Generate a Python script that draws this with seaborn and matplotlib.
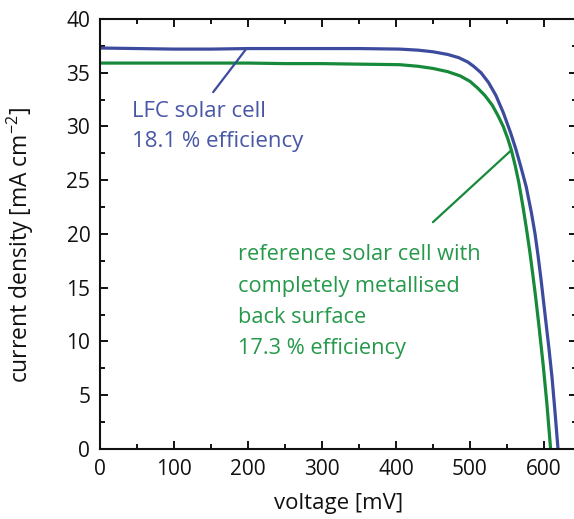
import numpy as np
import pandas as pd
import matplotlib
matplotlib.use("Agg")
import matplotlib.pyplot as plt
from matplotlib.ticker import MultipleLocator
import seaborn as sns

# I-V curves
lfc_voltage = [0, 50, 100, 150, 200, 250, 300, 350, 405, 430, 450, 470, 485, 497,
               505, 515, 525, 535, 545, 555, 562, 569, 576, 583, 588, 592, 596,
               599, 603, 607, 611, 615, 619]
lfc_current = [37.3, 37.25, 37.2, 37.2, 37.25, 37.25, 37.25, 37.25, 37.2, 37.1, 36.95,
               36.7, 36.4, 36.0, 35.6, 35.0, 34.1, 32.9, 31.3, 29.4, 27.9, 26.2,
               24.4, 22.0, 20.0, 18.0, 15.8, 14.0, 11.6, 9.2, 6.6, 3.4, 0.0]

ref_voltage = [0, 50, 100, 150, 200, 250, 300, 350, 405, 430, 450, 470, 487, 500,
               510, 520, 530, 538, 545, 551, 556, 561, 566, 572, 577, 581, 585,
               589, 593, 599, 604, 609]
ref_current = [35.9, 35.9, 35.9, 35.9, 35.9, 35.85, 35.85, 35.8, 35.75, 35.6, 35.4,
               35.1, 34.7, 34.2, 33.6, 32.9, 32.0, 31.0, 30.0, 28.9, 27.8, 26.4,
               24.8, 22.4, 20.2, 18.3, 16.2, 14.0, 11.6, 7.8, 4.2, 0.0]

series_names = ["LFC solar cell", "reference solar cell"]
series_colors = ["#3c4b9e", "#168a3a"]
text_colors = ["#4756a6", "#25994a"]

lfc_label = ["LFC solar cell", "18.1 % efficiency"]
ref_label = ["reference solar cell with", "completely metallised",
             "back surface", "17.3 % efficiency"]

x_ticks = [0, 100, 200, 300, 400, 500, 600]
y_ticks = [0, 5, 10, 15, 20, 25, 30, 35, 40]

df = pd.concat([
    pd.DataFrame({"voltage": lfc_voltage, "current": lfc_current, "cell": series_names[0]}),
    pd.DataFrame({"voltage": ref_voltage, "current": ref_current, "cell": series_names[1]}),
])

sns.set_style("ticks")
plt.rcParams["font.family"] = ["Open Sans", "DejaVu Sans"]

fig, ax = plt.subplots(figsize=(5.74, 5.19), dpi=100)
ax.set_position([0.1742, 0.1349, 0.8308, 0.8285])

sns.lineplot(data=df, x="voltage", y="current", hue="cell",
             palette=dict(zip(series_names, series_colors)),
             estimator=None, sort=False, legend=False, linewidth=2.3, ax=ax)

ax.set_xlim(0, 644.5)
ax.set_ylim(0, 40)
ax.set_xticks(x_ticks)
ax.set_yticks(y_ticks)
ax.xaxis.set_minor_locator(MultipleLocator(50))
ax.yaxis.set_minor_locator(MultipleLocator(2.5))
ax.tick_params(which="both", direction="in", top=True, right=True,
               width=1.4, labelsize=15, colors="#111111")
ax.tick_params(which="major", length=6, pad=7)
ax.tick_params(which="minor", length=3.3)
for sp in ax.spines.values():
    sp.set_linewidth(1.5)
    sp.set_color("#111111")

ax.set_xlabel("voltage [mV]", fontsize=16, color="#111111")
ax.set_ylabel("current density [mA cm$^{\\mathregular{-2}}$]", fontsize=16.5, color="#111111")
ax.xaxis.set_label_coords(0.5, -0.102)
ax.yaxis.set_label_coords(-0.135, 0.475)

# annotation leader lines
ax.annotate("", xy=(198, 37.25), xytext=(153, 33.2),
            arrowprops=dict(arrowstyle="-", color=series_colors[0], lw=1.6,
                            shrinkA=0, shrinkB=0))
ax.annotate("", xy=(556, 27.8), xytext=(450, 21.1),
            arrowprops=dict(arrowstyle="-", color=series_colors[1], lw=1.6,
                            shrinkA=0, shrinkB=0))

for i, line in enumerate(lfc_label):
    ax.text(43, 30.9 - i * 2.85, line, color=text_colors[0], fontsize=16, va="baseline")
for i, line in enumerate(ref_label):
    ax.text(186.5, 17.58 - i * 2.93, line, color=text_colors[1], fontsize=15.7, va="baseline")

fig.savefig("out.png", dpi=100)
